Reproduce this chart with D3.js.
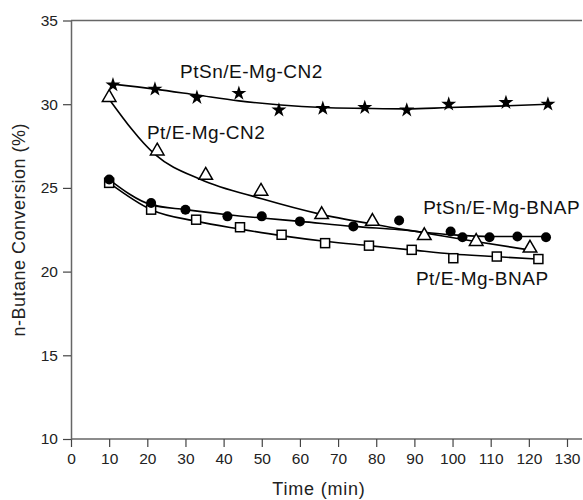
<!DOCTYPE html>
<html>
<head>
<meta charset="utf-8">
<script src="https://cdn.jsdelivr.net/npm/d3@7"></script>
<style>
    body { margin: 0; background: #fff; }
    svg { display: block; font-family: Arial, 'Liberation Sans', sans-serif; }
</style>
</head>
<body>
<script>
// measured points
const ptsnCN2 = [[11, 31.15], [22, 30.9], [33, 30.4], [44, 30.65], [54.5, 29.65], [66, 29.75], [77, 29.8], [88, 29.65], [99, 30.0], [114, 30.1], [125, 30.0]]
const ptCN2 = [[10, 30.4], [22.6, 27.2], [35.3, 25.75], [49.8, 24.8], [65.7, 23.4], [79, 23.0], [92.6, 22.15], [106.2, 21.8], [120.3, 21.4]]
const ptsnBNAP = [[10, 25.5], [21, 24.1], [30, 23.7], [41, 23.3], [50, 23.3], [60, 23.0], [74, 22.7], [86, 23.05], [99.5, 22.4], [102.6, 22.05], [109.7, 22.05], [117, 22.1], [124.5, 22.05]]
const ptBNAP = [[10, 25.3], [21, 23.7], [32.8, 23.1], [44.3, 22.65], [55.2, 22.2], [66.6, 21.7], [78.1, 21.55], [89.3, 21.3], [100.2, 20.8], [111.6, 20.9], [122.5, 20.75]]

// fitted curves
const ptsnCN2Fit = [[11, 31.2], [22, 30.9], [33, 30.55], [44, 30.2], [55, 29.95], [66, 29.8], [77, 29.75], [88, 29.72], [99, 29.8], [114, 29.9], [125, 30.0]]
const ptCN2Fit = [[10, 30.3], [22, 27.0], [34, 25.5], [50, 24.35], [65, 23.45], [80, 22.8], [93, 22.3], [106, 21.8], [120, 21.3]]
const ptsnBNAPFit = [[10, 25.5], [21, 24.0], [30, 23.7], [41, 23.4], [50, 23.2], [60, 23.0], [74, 22.7], [86, 22.5], [100, 22.2], [110, 22.1], [124.5, 22.1]]
const ptBNAPFit = [[10, 25.3], [21, 23.7], [33, 23.0], [44, 22.55], [55, 22.15], [67, 21.8], [78, 21.55], [89, 21.3], [100, 21.05], [111, 20.9], [122, 20.75]]

const xTicks = d3.range(0, 131, 10)
const yTicks = [10, 15, 20, 25, 30, 35]

const labels = [
    {text: 'PtSn/E-Mg-CN2', x: 28.6, y: 31.57},
    {text: 'Pt/E-Mg-CN2', x: 19.9, y: 27.92},
    {text: 'PtSn/E-Mg-BNAP', x: 92.3, y: 23.44},
    {text: 'Pt/E-Mg-BNAP', x: 90.4, y: 19.2}
]

const width = 583
const height = 500

const x = d3.scaleLinear().domain([0, 130]).range([71, 567])
const y = d3.scaleLinear().domain([10, 35]).range([439, 20.5])

const svg = d3.select('body')
    .append('svg')
    .attr('width', width)
    .attr('height', height)

// top frame line
svg.append('line')
    .attr('x1', x(0)).attr('x2', 582)
    .attr('y1', y(35)).attr('y2', y(35))
    .attr('stroke', '#666')
    .attr('stroke-width', 1.5)

const xAxis = svg.append('g')
    .attr('transform', `translate(0,${y(10)})`)
    .call(d3.axisBottom(x).tickValues(xTicks).tickSize(8).tickSizeOuter(0).tickPadding(6))
xAxis.select('.domain').attr('d', `M${x(0)},0H582`).attr('stroke', '#666').attr('stroke-width', 1.5)

const yAxis = svg.append('g')
    .attr('transform', `translate(${x(0)},0)`)
    .call(d3.axisLeft(y).tickValues(yTicks).tickSize(8).tickSizeOuter(0).tickPadding(5))
yAxis.select('.domain').attr('stroke', '#666').attr('stroke-width', 1.5)

svg.selectAll('.tick line').attr('stroke', '#444').attr('stroke-width', 1.2)
svg.selectAll('.tick text').attr('font-size', 15.5).attr('fill', '#222')
    .attr('font-family', 'Arial, Liberation Sans, sans-serif')

svg.append('text')
    .attr('x', (x(0) + x(130)) / 2)
    .attr('y', 495)
    .attr('text-anchor', 'middle')
    .attr('font-size', 18)
    .attr('letter-spacing', 0.8)
    .attr('fill', '#222')
    .text('Time (min)')

svg.append('text')
    .attr('transform', `translate(25,${(y(10) + y(35)) / 2}) rotate(-90)`)
    .attr('text-anchor', 'middle')
    .attr('font-size', 18)
    .attr('letter-spacing', 0.5)
    .attr('fill', '#222')
    .text('n-Butane Conversion (%)')

const line = d3.line()
    .x(d => x(d[0]))
    .y(d => y(d[1]))
    .curve(d3.curveMonotoneX)

const plot = svg.append('g')

for (const fit of [ptsnCN2Fit, ptCN2Fit, ptsnBNAPFit, ptBNAPFit]) {
    plot.append('path')
        .datum(fit)
        .attr('d', line)
        .attr('fill', 'none')
        .attr('stroke', '#000')
        .attr('stroke-width', 1.6)
}

// stars
plot.selectAll('.star')
    .data(ptsnCN2)
    .enter()
    .append('path')
    .classed('star', true)
    .attr('transform', d => `translate(${x(d[0])},${y(d[1])})`)
    .attr('d', d3.symbol(d3.symbolStar, 70))
    .attr('fill', '#000')

// open triangles
plot.selectAll('.tri')
    .data(ptCN2)
    .enter()
    .append('path')
    .classed('tri', true)
    .attr('transform', d => `translate(${x(d[0])},${y(d[1])})`)
    .attr('d', d3.symbol(d3.symbolTriangle, 80))
    .attr('fill', '#fff')
    .attr('stroke', '#000')
    .attr('stroke-width', 1.5)

// open squares
plot.selectAll('.sq')
    .data(ptBNAP)
    .enter()
    .append('rect')
    .classed('sq', true)
    .attr('x', d => x(d[0]) - 4.5)
    .attr('y', d => y(d[1]) - 4.5)
    .attr('width', 9)
    .attr('height', 9)
    .attr('fill', '#fff')
    .attr('stroke', '#000')
    .attr('stroke-width', 1.5)

// filled circles
plot.selectAll('.dot')
    .data(ptsnBNAP)
    .enter()
    .append('circle')
    .classed('dot', true)
    .attr('cx', d => x(d[0]))
    .attr('cy', d => y(d[1]))
    .attr('r', 5)
    .attr('fill', '#000')

svg.selectAll('.label')
    .data(labels)
    .enter()
    .append('text')
    .classed('label', true)
    .attr('x', d => x(d.x))
    .attr('y', d => y(d.y))
    .attr('font-size', 19)
    .attr('letter-spacing', 0.5)
    .attr('fill', '#111')
    .text(d => d.text)
</script>
</body>
</html>
